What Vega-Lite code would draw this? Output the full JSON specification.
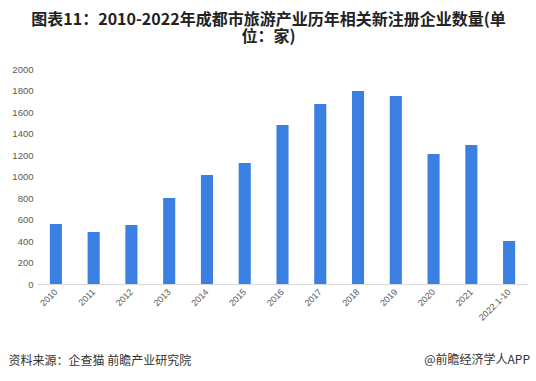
{
  "$schema": "https://vega.github.io/schema/vega-lite/v6.json",
  "autosize": "none",
  "width": 491,
  "height": 215,
  "padding": {"left": 37, "right": 8, "top": 69, "bottom": 97},
  "background": "white",
  "config": {"view": {"stroke": null}, "font": "Noto Sans CJK SC"},
  "title": {
    "text": ["图表11：2010-2022年成都市旅游产业历年相关新注册企业数量(单", "位：家)"],
    "anchor": "middle",
    "frame": "group",
    "dx": -14,
    "offset": 19,
    "fontSize": 16,
    "fontWeight": "bold",
    "lineHeight": 17.5,
    "color": "#222222",
    "font": "Noto Sans CJK SC"
  },
  "layer": [
    {
      "data": {
        "values": [
          {"year": "2010", "count": 558},
          {"year": "2011", "count": 484},
          {"year": "2012", "count": 549},
          {"year": "2013", "count": 800},
          {"year": "2014", "count": 1014},
          {"year": "2015", "count": 1125},
          {"year": "2016", "count": 1479},
          {"year": "2017", "count": 1674},
          {"year": "2018", "count": 1795},
          {"year": "2019", "count": 1749},
          {"year": "2020", "count": 1209},
          {"year": "2021", "count": 1293},
          {"year": "2022.1-10", "count": 400}
        ]
      },
      "mark": {"type": "bar", "color": "#3A80E3"},
      "encoding": {
        "x": {
          "field": "year",
          "type": "ordinal",
          "sort": null,
          "scale": {"paddingInner": 0.68, "paddingOuter": 0.34},
          "axis": {
            "title": "资料来源：企查猫 前瞻产业研究院",
            "titleAnchor": "start",
            "titleAlign": "left",
            "titleX": -29,
            "titleY": 76,
            "titleBaseline": "middle",
            "titleFontSize": 12,
            "titleFontWeight": "normal",
            "titleColor": "#333333",
            "labelAngle": 315,
            "labelAlign": "right",
            "labelBaseline": "middle",
            "labelFontSize": 9,
            "labelColor": "#595959",
            "labelFont": "Liberation Sans",
            "domainColor": "#D9D9D9",
            "ticks": false,
            "labelPadding": 6
          }
        },
        "y": {
          "field": "count",
          "type": "quantitative",
          "scale": {"domain": [0, 2000]},
          "axis": {
            "title": null,
            "values": [0, 200, 400, 600, 800, 1000, 1200, 1400, 1600, 1800, 2000],
            "format": "d",
            "grid": false,
            "domain": false,
            "ticks": false,
            "labelPadding": 4,
            "labelFontSize": 9.5,
            "labelColor": "#595959",
            "labelFont": "Liberation Sans"
          }
        }
      }
    },
    {
      "data": {"values": [{"t": "@前瞻经济学人APP"}]},
      "mark": {"type": "text", "align": "right", "baseline": "middle", "fontSize": 12, "color": "#333333"},
      "encoding": {
        "text": {"field": "t"},
        "x": {"value": {"expr": "width + 2"}},
        "y": {"value": {"expr": "height + 76"}}
      }
    }
  ]
}
